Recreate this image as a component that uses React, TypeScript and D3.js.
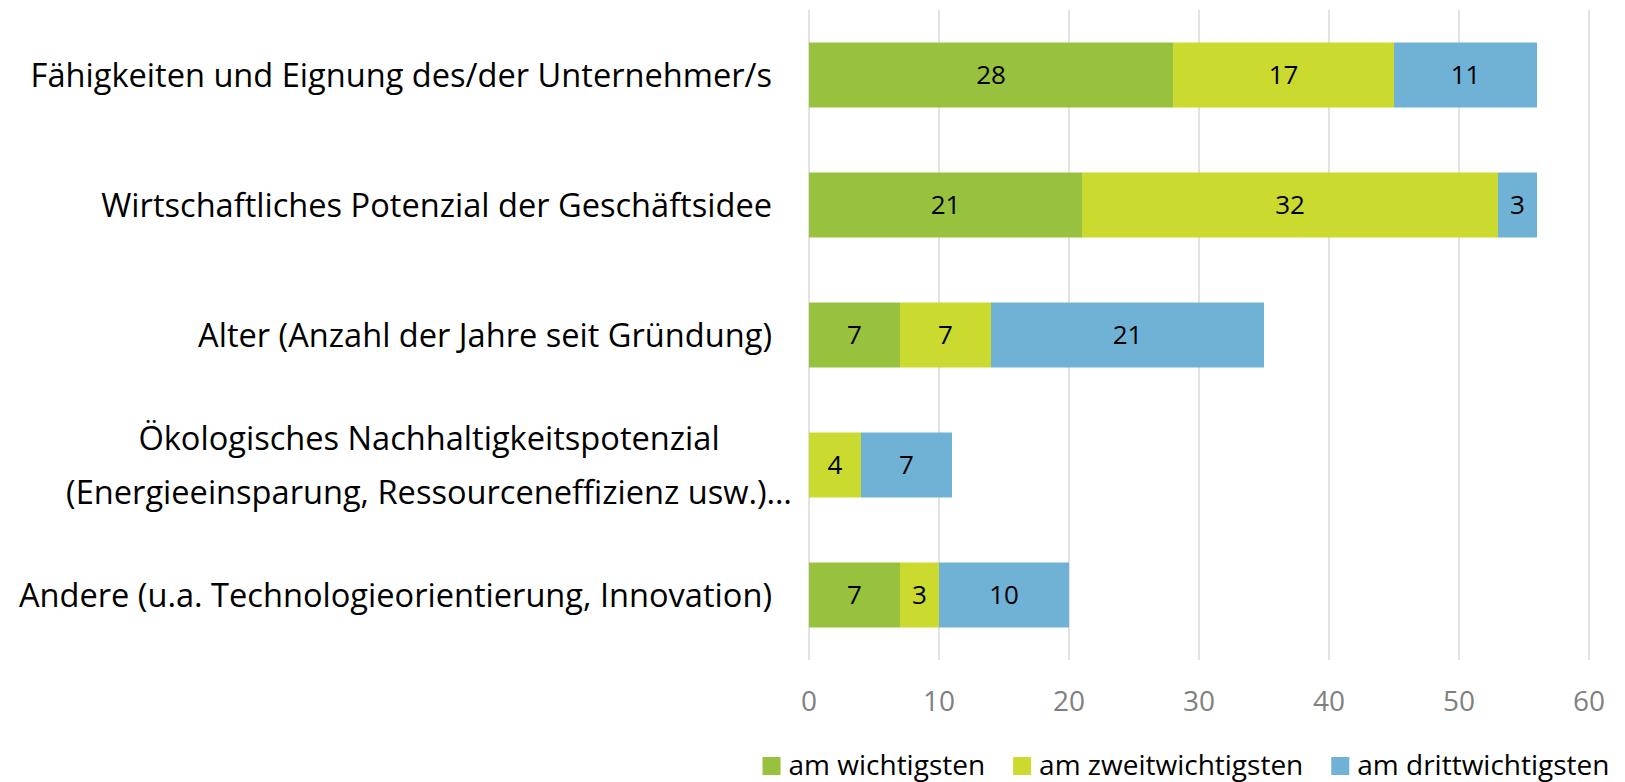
import React, { useEffect, useRef } from "react"
import * as d3 from "d3"

const categories: string[][] = [
    ["Fähigkeiten und Eignung des/der Unternehmer/s"],
    ["Wirtschaftliches Potenzial der Geschäftsidee"],
    ["Alter (Anzahl der Jahre seit Gründung)"],
    ["Ökologisches Nachhaltigkeitspotenzial", "(Energieeinsparung, Ressourceneffizienz usw.)…"],
    ["Andere (u.a. Technologieorientierung, Innovation)"],
]

const seriesNames = ["am wichtigsten", "am zweitwichtigsten", "am drittwichtigsten"]
const seriesColors = ["#98c13d", "#cbda2e", "#70b2d6"]

const wichtigsten = [28, 21, 7, 0, 7]
const zweitwichtigsten = [17, 32, 7, 4, 3]
const drittwichtigsten = [11, 3, 21, 7, 10]

const xTicks = [0, 10, 20, 30, 40, 50, 60]

const FONT = "'Open Sans', 'Noto Sans', sans-serif"

const App = () => {
    const svgRef = useRef<SVGSVGElement | null>(null)

    useEffect(() => {
        if (!svgRef.current) return
        const svg = d3.select(svgRef.current)
        svg.selectAll("*").remove()

        const margin = { top: 10, left: 809, right: 36, bottom: 122 }
        const width = 1625 - margin.left - margin.right
        const height = 782 - margin.top - margin.bottom

        const x = d3.scaleLinear().domain([0, 60]).range([0, width])
        const y = d3
            .scaleBand<number>()
            .domain(d3.range(categories.length))
            .range([0, height])
            .paddingInner(0.5)
            .paddingOuter(0.25)

        const g = svg
            .append("g")
            .attr("transform", "translate(" + margin.left + "," + margin.top + ")")

        // vertical gridlines
        g.append("g")
            .selectAll("line")
            .data(xTicks)
            .enter()
            .append("line")
            .attr("x1", (d) => x(d))
            .attr("x2", (d) => x(d))
            .attr("y1", 0)
            .attr("y2", height)
            .attr("stroke", "#d9d9d9")
            .attr("stroke-width", 1.5)

        // tick labels
        g.append("g")
            .selectAll("text")
            .data(xTicks)
            .enter()
            .append("text")
            .attr("x", (d) => x(d))
            .attr("y", height + 51)
            .attr("text-anchor", "middle")
            .attr("font-family", FONT)
            .attr("font-size", "28px")
            .attr("fill", "#808080")
            .text((d) => d)

        const rows = categories.map((c, i) => ({
            i,
            values: [wichtigsten[i], zweitwichtigsten[i], drittwichtigsten[i]],
        }))
        const stack = d3.stack<any>().keys(["0", "1", "2"]).value((d, k) => d.values[+k])
        const layers = stack(rows)

        const segs: any[] = []
        layers.forEach((layer, s) => {
            layer.forEach((p) => {
                segs.push({ s, i: p.data.i, x0: p[0], x1: p[1], v: p[1] - p[0] })
            })
        })

        g.append("g")
            .selectAll("rect")
            .data(segs.filter((d) => d.v > 0))
            .enter()
            .append("rect")
            .attr("x", (d) => x(d.x0))
            .attr("y", (d) => y(d.i) as number)
            .attr("width", (d) => x(d.x1) - x(d.x0))
            .attr("height", y.bandwidth())
            .attr("fill", (d) => seriesColors[d.s])

        g.append("g")
            .selectAll("text")
            .data(segs.filter((d) => d.v > 0))
            .enter()
            .append("text")
            .attr("x", (d) => (x(d.x0) + x(d.x1)) / 2)
            .attr("y", (d) => (y(d.i) as number) + y.bandwidth() / 2)
            .attr("dy", "0.36em")
            .attr("text-anchor", "middle")
            .attr("font-family", FONT)
            .attr("font-size", "26px")
            .attr("fill", "#000")
            .text((d) => d.v)

        // category labels
        const labels = g.append("g")
        categories.forEach((lines, i) => {
            const cy = (y(i) as number) + y.bandwidth() / 2
            if (lines.length === 1) {
                labels
                    .append("text")
                    .attr("x", -37)
                    .attr("y", cy)
                    .attr("dy", "0.36em")
                    .attr("text-anchor", "end")
                    .attr("font-family", FONT)
                    .attr("font-size", "32.6px")
                    .attr("fill", "#000")
                    .text(lines[0])
            } else {
                lines.forEach((line, k) => {
                    labels
                        .append("text")
                        .attr("x", -380)
                        .attr("y", cy + (k - (lines.length - 1) / 2) * 54)
                        .attr("dy", "0.36em")
                        .attr("text-anchor", "middle")
                        .attr("font-family", FONT)
                        .attr("font-size", "32.6px")
                        .attr("fill", "#000")
                        .text(line)
                })
            }
        })

        // legend
        const legend = svg.append("g").attr("transform", "translate(0,775)")
        const items = seriesNames.map((name, s) => {
            const item = legend.append("g")
            item.append("rect")
                .attr("y", -18)
                .attr("width", 18)
                .attr("height", 18)
                .attr("fill", seriesColors[s])
            const t = item
                .append("text")
                .attr("x", 26)
                .attr("font-family", FONT)
                .attr("font-size", "28px")
                .attr("fill", "#000")
                .text(name)
            const w = (t.node() as SVGTextElement).getComputedTextLength()
            return { item, w: 26 + w }
        })
        const gap = 28
        const total = d3.sum(items, (d) => d.w) + gap * (items.length - 1)
        let lx = 1186 - total / 2
        items.forEach((d) => {
            d.item.attr("transform", "translate(" + lx + ",0)")
            lx += d.w + gap
        })
    }, [])

    return (
        <svg
            ref={svgRef}
            width={1625}
            height={782}
            style={{ position: "absolute", left: 0, top: 0, background: "#fff" }}
        />
    )
}

export default App
